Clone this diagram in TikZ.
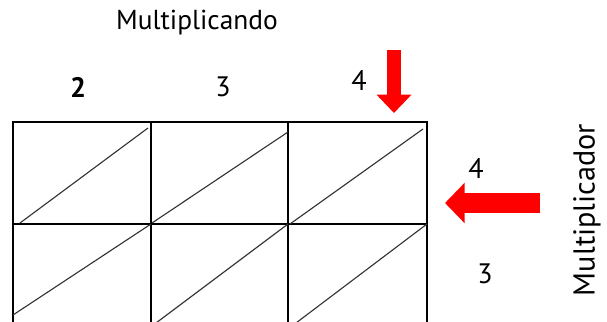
\documentclass[tikz,border=0pt]{standalone}
\usepackage{fontspec}
\setmainfont{PT Sans}
\usepackage{tikz}
\usetikzlibrary{arrows.meta}
\definecolor{arrowred}{RGB}{255,0,0}

\begin{document}
\begin{tikzpicture}[x=0.025cm,y=-0.025cm,
    cell/.style={black,line width=0.9pt},
    diag/.style={black!80,line width=0.8pt},
    digit/.style={font=\fontsize{20}{24}\selectfont},
    label/.style={font=\fontsize{19.5}{23}\selectfont},
    ]
    \useasboundingbox (0,0) rectangle (607,322);
    \clip (0,0) rectangle (607,322);
    % grid
    \draw[cell] (13,122) rectangle (427,340);
    \draw[cell] (151,122) -- (151,340);
    \draw[cell] (288,122) -- (288,340);
    \draw[cell] (13,224) -- (427,224);
    % diagonals
    \draw[diag] (20,223) -- (148,128);
    \draw[diag] (152,223) -- (288,132);
    \draw[diag] (290,224) -- (423,129);
    \draw[diag] (13,315) -- (151,224);
    \draw[diag] (152,326) -- (288,224);
    \draw[diag] (292,326) -- (427,224);
    % digits
    \node[digit,font=\fontsize{20}{24}\selectfont\bfseries] (d2) at (78,87) {2};
    \node[digit] (d3) at (223,87) {3};
    \node[digit] (d4) at (359,81) {4};
    \node[digit] (r4) at (476,169) {4};
    \node[digit] (r3) at (485,274) {3};
    % labels
    \node[label] (mcando) at (197,23) {Multiplicando};
    \node[label,font=\fontsize{21.5}{25}\selectfont,rotate=90] (mcador) at (587,210) {Multiplicador};
    % arrows
    \draw[arrowred,line width=10.5pt,-{Triangle[length=13pt,width=24pt]}]
      (394,50) -- (394,113);
    \draw[arrowred,line width=14pt,-{Triangle[length=14pt,width=28pt]}]
      (540,203) -- (445,203);
  \end{tikzpicture}
\end{document}
